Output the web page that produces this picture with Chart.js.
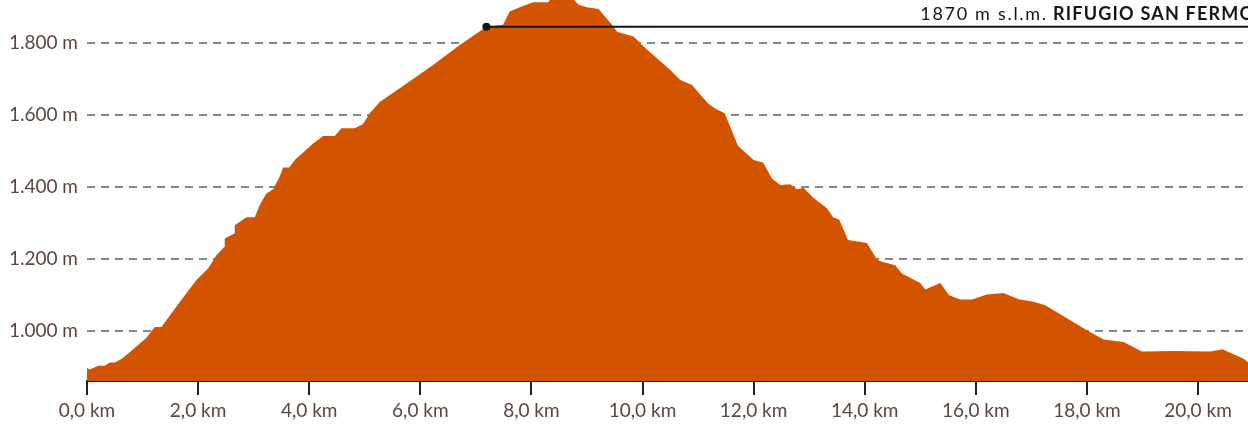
<!DOCTYPE html>
<html>
<head>
<meta charset="utf-8">
<script src="https://cdn.jsdelivr.net/npm/chart.js@4"></script>
<style>
  html, body { margin: 0; padding: 0; background: #fff; }
</style>
</head>
<body>
<canvas id="profile" width="1248" height="426"></canvas>
<script>
// Profilo altimetrico: distanza (km) e quota (m)
const distKm = [
  0, 0.05, 0.2, 0.32, 0.41, 0.5, 0.62, 0.77, 1.07, 1.22, 1.34, 1.67, 1.97,
  2.18, 2.33, 2.47, 2.48, 2.65, 2.66, 2.87, 3.02, 3.11, 3.23, 3.35, 3.47,
  3.53, 3.64, 3.74, 4.07, 4.25, 4.46, 4.58, 4.82, 4.97, 5.09, 5.27, 5.63,
  6.23, 6.71, 7.19, 7.49, 7.61, 7.79, 8.03, 8.3, 8.4, 8.7, 8.85, 9.0, 9.21,
  9.48, 9.54, 9.84, 10.02, 10.5, 10.68, 10.89, 11.18, 11.33, 11.48, 11.72,
  12.0, 12.17, 12.33, 12.48, 12.66, 12.78, 12.9, 13.07, 13.32, 13.43, 13.54,
  13.7, 14.04, 14.22, 14.31, 14.55, 14.67, 15.0, 15.09, 15.36, 15.52, 15.72,
  15.93, 16.2, 16.5, 16.77, 17.04, 17.25, 17.52, 18.0, 18.3, 18.66, 18.99,
  19.56, 20.22, 20.44, 20.64, 20.82, 20.9
];
const elevM = [
  898, 894, 904, 904, 913, 913, 923, 942, 982, 1012, 1012, 1081, 1142,
  1174, 1211, 1234, 1257, 1271, 1294, 1316, 1316, 1350, 1382, 1394, 1429,
  1454, 1454, 1475, 1521, 1542, 1542, 1563, 1563, 1575, 1605, 1636, 1674,
  1739, 1794, 1845, 1850, 1887, 1899, 1913, 1913, 1930, 1930, 1906, 1899, 1894,
  1845, 1831, 1818, 1790, 1725, 1697, 1683, 1632, 1616, 1605, 1514,
  1475, 1468, 1424, 1406, 1408, 1394, 1398, 1371, 1341, 1316, 1310,
  1253, 1245, 1199, 1193, 1183, 1160, 1134, 1116, 1134, 1100, 1088,
  1088, 1102, 1106, 1089, 1082, 1072, 1047, 1003, 977, 970, 944,
  945, 944, 950, 936, 924, 914
];

const xTicks = [0, 2, 4, 6, 8, 10, 12, 14, 16, 18, 20];
const yTicks = [1000, 1200, 1400, 1600, 1800];

// Rifugio
const hutKm = 7.19;
const hutElev = 1845;
const routeEndKm = 20.9;
const hutLabelKm = 15.0;
const hutAlt = '1870 m s.l.m.';
const hutName = 'RIFUGIO SAN FERMO';

const textColor = '#5b463f';
const fontFamily = 'Lato, "Open Sans", sans-serif';

const hutLabelPlugin = {
    id: 'hutLabel',
    afterDatasetsDraw(chart) {
        const { ctx, scales: { x, y } } = chart;
        const px = x.getPixelForValue(hutLabelKm);
        const py = y.getPixelForValue(hutElev) - 7;
        ctx.save();
        ctx.fillStyle = '#151515';
        ctx.textBaseline = 'alphabetic';
        ctx.letterSpacing = '1.7px';
        ctx.font = '18px ' + fontFamily;
        const first = hutAlt + ' ';
        ctx.fillText(first, px, py);
        const w = ctx.measureText(first).width;
        ctx.letterSpacing = '1.2px';
        ctx.font = 'bold 18px ' + fontFamily;
        ctx.fillText(hutName, px + w - 1, py);
        ctx.restore();
    }
};

const fmtThousands = v => String(v).replace(/\B(?=(\d{3})+(?!\d))/g, '.');

new Chart(document.getElementById('profile'), {
    type: 'line',
    data: {
        datasets: [
            {
                data: [{ x: hutKm, y: hutElev }, { x: routeEndKm, y: hutElev }],
                borderColor: '#151515',
                borderWidth: 2,
                pointRadius: [4, 0],
                pointBackgroundColor: '#151515',
                pointBorderWidth: 0,
                fill: false,
            },
            {
                data: distKm.map((d, i) => ({ x: d, y: elevM[i] })),
                backgroundColor: '#d35400',
                borderWidth: 0,
                pointRadius: 0,
                fill: 'start',
                tension: 0,
            },
        ],
    },
    options: {
        responsive: false,
        animation: false,
        layout: { padding: 0, autoPadding: false },
        plugins: {
            legend: { display: false },
            tooltip: { enabled: false },
        },
        scales: {
            x: {
                type: 'linear',
                min: 0,
                max: routeEndKm,
                afterBuildTicks: s => { s.ticks = xTicks.map(v => ({ value: v })); },
                afterFit: s => {
                    s.height = 45;
                    s.paddingLeft = 0;
                    s.paddingRight = 0;
                },
                ticks: {
                    color: textColor,
                    font: { family: fontFamily, size: 19 },
                    padding: 4,
                    maxRotation: 0,
                    autoSkip: false,
                    callback: v => v.toFixed(1).replace('.', ',') + ' km',
                },
                grid: {
                    drawOnChartArea: false,
                    drawTicks: true,
                    tickLength: 14,
                    tickColor: '#222',
                    lineWidth: 2,
                },
                border: { display: true, color: '#222', width: 2 },
            },
            y: {
                min: 862,
                max: 1919,
                afterBuildTicks: s => { s.ticks = yTicks.map(v => ({ value: v })); },
                afterFit: s => {
                    s.width = 87;
                    s.paddingTop = 0;
                    s.paddingBottom = 0;
                },
                ticks: {
                    color: textColor,
                    font: { family: fontFamily, size: 19 },
                    padding: 9,
                    callback: v => fmtThousands(v) + ' m',
                },
                grid: {
                    color: '#888',
                    lineWidth: 2,
                    drawTicks: false,
                },
                border: { display: false, dash: [8, 6] },
            },
        },
    },
    plugins: [hutLabelPlugin],
});
</script>
</body>
</html>
